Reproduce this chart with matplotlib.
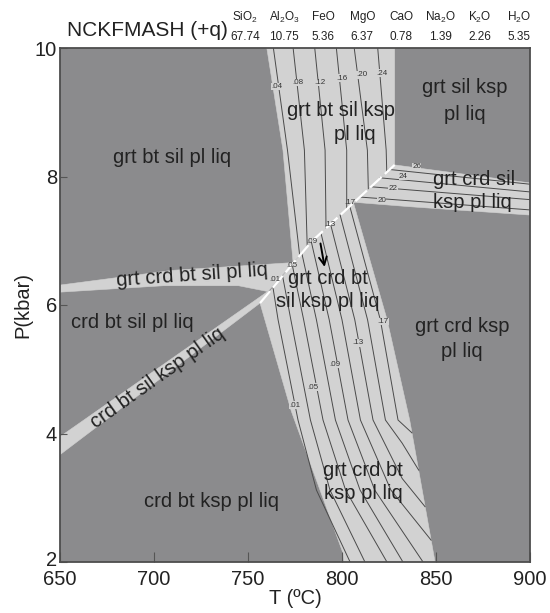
import numpy as np
import matplotlib
matplotlib.use("Agg")
import matplotlib.pyplot as plt
import matplotlib.transforms as mtrans
from matplotlib.patches import Polygon

plt.rcParams["font.family"] = ["Liberation Sans", "DejaVu Sans"]
plt.rcParams["mathtext.fontset"] = "custom"
plt.rcParams["mathtext.rm"] = "Liberation Sans"

DARK, LIGHT, INK = "#8b8b8d", "#d2d2d2", "#222222"

# ── bulk composition header ─────────────────────────────────────────────
oxides = [r"SiO$_\mathrm{2}$", r"Al$_\mathrm{2}$O$_\mathrm{3}$", "FeO", "MgO", "CaO",
          r"Na$_\mathrm{2}$O", r"K$_\mathrm{2}$O", r"H$_\mathrm{2}$O"]
wt_pct = ["67.74", "10.75", "5.36", "6.37", "0.78", "1.39", "2.26", "5.35"]

# ── phase boundaries (T degC, P kbar) ──────────────────────────────────
white_T = [756.4, 773.2, 783.9, 828.0]          # crd-in reaction (white)
white_P = [6.03, 6.62, 6.99, 8.18]

top_left_T = [760.0, 768.6, 774.0]              # grt bt sil ksp pl liq, left edge
top_left_P = [10.0, 8.41, 6.66]
top_right_T = 828.0

low_right_T = [806.0, 824.0, 836.0, 849.5]      # grt crd bt (sil) ksp pl liq, right edge
low_right_P = [7.60, 5.77, 4.21, 2.00]
low_left_T = [756.4, 773.0, 800.5, 801.0]       # left edge
low_left_P = [6.03, 4.35, 2.14, 2.00]

wedge_T = [806.0, 828.0, 900.0, 900.0, 836.0]   # grt crd sil ksp pl liq
wedge_P = [7.60, 8.18, 7.90, 7.40, 7.53]

bandA_T = [650.0, 710.0, 774.0, 760.5, 745.0, 705.0, 650.0]   # grt crd bt sil pl liq
bandA_P = [6.31, 6.54, 6.66, 6.21, 6.30, 6.30, 6.20]
bandB_T = [650.0, 760.5, 756.4, 650.0]                        # crd bt sil ksp pl liq
bandB_P = [3.95, 6.21, 6.03, 3.67]

# ── isopleths ───────────────────────────────────────────────────────────
top_iso_T = [[763.5, 771.0, 777.5], [774.0, 780.0, 781.5], [785.5, 791.0, 791.5],
             [797.0, 802.5, 802.5], [806.5, 813.5, 814.0], [819.0, 823.5, 823.8]]
top_iso_P = [[10, 8.41, 6.77], [10, 8.41, 6.91], [10, 8.41, 7.20],
             [10, 8.41, 7.50], [10, 8.41, 7.81], [10, 8.41, 8.08]]
top_lab = [".04", ".08", ".12", ".16", ".20", ".24"]
top_lab_T = [765.3, 776.6, 788.3, 800.0, 810.6, 821.3]
top_lab_P = [9.40, 9.46, 9.46, 9.53, 9.58, 9.61]

wedge_iso_T = [[809.6, 900], [815.5, 900], [820.0, 900], [825.0, 900]]
wedge_iso_P = [[7.68, 7.48], [7.84, 7.64], [7.98, 7.76], [8.11, 7.88]]
wedge_lab = ["20", "22", "24", "26"]
wedge_lab_T = [821.1, 827.1, 832.6, 839.7]
wedge_lab_P = [7.63, 7.82, 8.00, 8.15]

low_iso_T = [[763.3, 766.0, 776.6, 786.4, 804.3],
             [768.4, 772.8, 783.2, 793.6, 812.2],
             [773.5, 779.6, 789.9, 801.9, 823.9],
             [778.6, 786.4, 796.5, 809.6, 832.4],
             [783.7, 793.2, 803.2, 817.4, 843.1],
             [788.8, 800.0, 809.8, 826.0, 847.4],
             [793.9, 806.8, 816.5, 832.0, 844.2],
             [799.0, 813.6, 823.1, 832.0, 840.8],
             [804.1, 820.4, 829.8, 837.2]]
low_iso_P = [[6.27, 5.77, 4.21, 3.12, 2.00],
             [6.45, 5.77, 4.21, 3.12, 2.00],
             [6.63, 5.77, 4.21, 3.12, 2.00],
             [6.81, 5.77, 4.21, 3.12, 2.00],
             [6.98, 5.77, 4.21, 3.12, 2.00],
             [7.12, 5.77, 4.21, 3.12, 2.34],
             [7.26, 5.77, 4.21, 3.30, 2.86],
             [7.40, 5.77, 4.21, 3.85, 3.43],
             [7.54, 5.77, 4.21, 4.01]]
low_lab = [".01", ".05", ".09", ".13", ".17"]
low_lab_T = [775.0, 784.6, 796.3, 808.5, 821.8]
low_lab_P = [4.44, 4.72, 5.07, 5.41, 5.74]
edge_lab_T = [764.4, 773.2, 783.9, 793.6, 804.3]
edge_lab_P = [6.39, 6.62, 6.99, 7.25, 7.59]

# ── field names ─────────────────────────────────────────────────────────
fields = ["grt bt sil pl liq", "grt bt sil ksp", "pl liq", "grt sil ksp", "pl liq",
          "grt crd sil", "ksp pl liq", "grt crd bt", "sil ksp pl liq",
          "crd bt sil pl liq", "grt crd ksp", "pl liq", "grt crd bt", "ksp pl liq",
          "crd bt ksp pl liq"]
field_T = [709.6, 799.5, 806.9, 865.4, 865.4, 870.2, 869.1, 792.3, 792.3,
           688.6, 863.8, 863.8, 811.2, 811.2, 730.6]
field_P = [8.30, 9.03, 8.65, 9.38, 8.97, 7.95, 7.59, 6.42, 6.05,
           5.72, 5.66, 5.27, 3.43, 3.07, 2.94]

fig = plt.figure(figsize=(5.5, 6.13), dpi=100)
ax = fig.add_axes([60 / 550, 1 - 562 / 613, 470 / 550, 514 / 613])
ax.set_xlim(650, 900)
ax.set_ylim(2, 10)
ax.set_facecolor(DARK)

wT, wP = np.array(white_T), np.array(white_P)

# light fields
top_poly = list(zip(top_left_T, top_left_P)) + [(783.9, 6.99), (wT[-1], wP[-1]),
                                                (top_right_T, wP[-1]), (top_right_T, 10)]
low_poly = list(zip(wT[:3], wP[:3])) + list(zip(low_right_T, low_right_P)) \
    + list(zip(low_left_T[::-1], low_left_P[::-1]))
for pts in [top_poly, low_poly, list(zip(wedge_T, wedge_P)),
            list(zip(bandA_T, bandA_P)), list(zip(bandB_T, bandB_P))]:
    ax.add_patch(Polygon(pts, closed=True, fc=LIGHT, ec=LIGHT, lw=0.4, zorder=1))

# isopleths
for T, P in zip(top_iso_T + wedge_iso_T + low_iso_T, top_iso_P + wedge_iso_P + low_iso_P):
    ax.plot(T, P, color="#4a4a4a", lw=0.7, zorder=2)

lab_kw = dict(fontsize=5.8, color="#333333", ha="center", va="center", zorder=4,
              bbox=dict(fc=LIGHT, ec="none", pad=0.2))
for s, T, P in zip(top_lab, top_lab_T, top_lab_P):
    ax.text(T, P, s, **lab_kw)
for s, T, P in zip(wedge_lab, wedge_lab_T, wedge_lab_P):
    ax.text(T, P, s, **lab_kw)
for s, T, P in zip(low_lab, low_lab_T, low_lab_P):
    ax.text(T, P, s, **lab_kw)

# crd-in reaction drawn in white
ax.plot(wT, wP, color="white", lw=1.6, dashes=(7, 2), zorder=3)
for s, T, P in zip(low_lab, edge_lab_T, edge_lab_P):
    ax.text(T, P, s, fontsize=5.8, color="#333333", ha="center", va="center", zorder=4)

ax.annotate("", xy=(791.0, 6.55), xytext=(788.3, 7.0),
            arrowprops=dict(arrowstyle="->", color="black", lw=1.4,
                            mutation_scale=14), zorder=5)

for s, T, P in zip(fields, field_T, field_P):
    ax.text(T, P, s, fontsize=14.5, color=INK, ha="center", va="center", zorder=6)
ax.text(720.0, 6.47, "grt crd bt sil pl liq", fontsize=14.5, color=INK,
        ha="center", va="center", rotation=4, zorder=6)
ax.text(702.1, 4.86, "crd bt sil ksp pl liq", fontsize=14.5, color=INK,
        ha="center", va="center", rotation=35.4, rotation_mode="anchor", zorder=6)

ax.set_xticks([650, 700, 750, 800, 850, 900])
ax.set_yticks([2, 4, 6, 8, 10])
ax.tick_params(direction="in", labelsize=14.5, colors="#555555", labelcolor=INK)
ax.tick_params(axis="x", length=7, pad=6)
ax.tick_params(axis="y", length=5, pad=2)
# lift the lowest pressure label a little off the "650" below it
lab2 = ax.get_yticklabels()[0]
lab2.set_transform(lab2.get_transform()
                   + mtrans.ScaledTranslation(0, 4 / 100, fig.dpi_scale_trans))
for sp in ax.spines.values():
    sp.set_color("#4d4d4d")
    sp.set_linewidth(1.3)
    sp.set_zorder(7)
ax.set_xlabel("T (ºC)", fontsize=14.5, color=INK, labelpad=0)
ax.set_ylabel("P(kbar)", fontsize=14.5, color=INK, labelpad=2)

fig.text(228 / 550, 1 - 31 / 613, "NCKFMASH (+q)", fontsize=15, color=INK,
         ha="right", va="center")
for i, (ox, w) in enumerate(zip(oxides, wt_pct)):
    x = (245 + 39.1 * i) / 550
    fig.text(x, 1 - 17 / 613, ox, fontsize=8.5, color=INK, ha="center", va="center")
    fig.text(x, 1 - 37 / 613, w, fontsize=8.5, color=INK, ha="center", va="center")

fig.savefig("out.png", dpi=100)
